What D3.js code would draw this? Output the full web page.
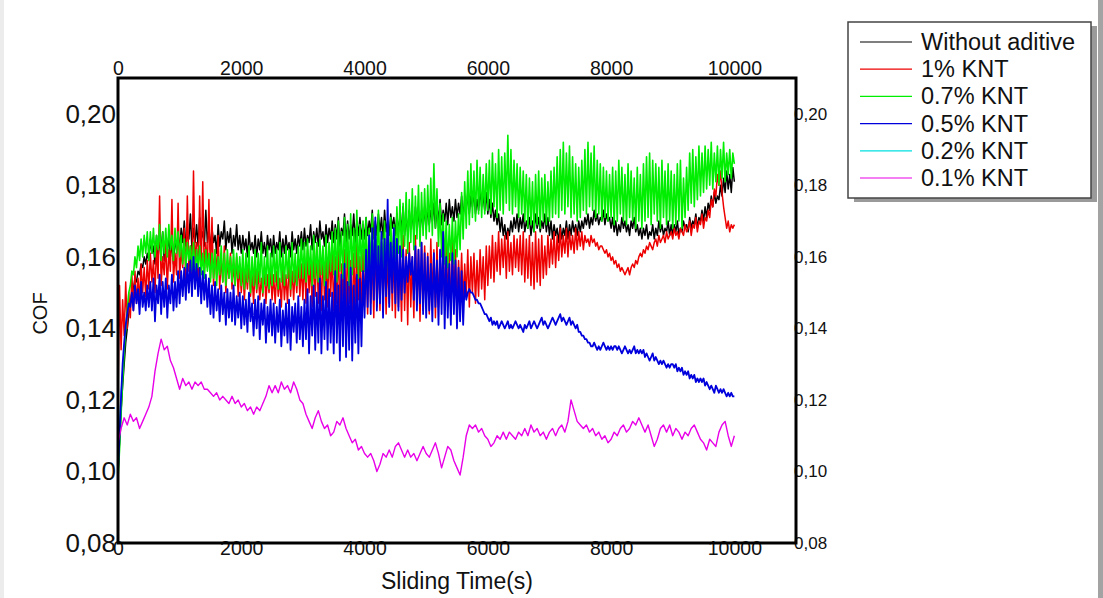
<!DOCTYPE html>
<html>
<head>
<meta charset="utf-8">
<script src="https://cdn.jsdelivr.net/npm/d3@7"></script>
<style>
  html, body { margin: 0; padding: 0; background: #fff; }
  svg { display: block; font-family: "Liberation Sans", Arial, sans-serif; }
</style>
</head>
<body>
<svg id="chart" width="1103" height="598"></svg>
<script>
// Sliding time samples (s)
const timeFine = d3.range(0, 10001, 25);   // friction logger, every 25 s
const timeCoarse = d3.range(0, 10001, 50); // 0.1% KNT run, every 50 s
const timeShort = [0, 50, 100, 150];       // 0.2% KNT run-in

// Coefficient of friction, without additive
const cofWithout = [
  0.100, 0.108, 0.117, 0.124, 0.130, 0.136, 0.140, 0.144, 0.147, 0.150, 0.151, 0.154, 0.153, 0.156, 0.155, 0.158, 0.157, 0.160, 0.158, 0.161,
  0.159, 0.165, 0.161, 0.163, 0.158, 0.166, 0.160, 0.164, 0.162, 0.167, 0.159, 0.163, 0.161, 0.166, 0.160, 0.164, 0.158, 0.165, 0.162, 0.166,
  0.162, 0.168, 0.164, 0.170, 0.163, 0.166, 0.165, 0.172, 0.162, 0.168, 0.164, 0.169, 0.163, 0.171, 0.165, 0.167, 0.163, 0.173, 0.164, 0.168,
  0.162, 0.168, 0.164, 0.166, 0.161, 0.169, 0.163, 0.167, 0.165, 0.170, 0.162, 0.167, 0.164, 0.168, 0.161, 0.166, 0.163, 0.169, 0.162, 0.166,
  0.161, 0.166, 0.162, 0.165, 0.160, 0.167, 0.162, 0.164, 0.161, 0.166, 0.160, 0.165, 0.162, 0.167, 0.161, 0.164, 0.160, 0.166, 0.162, 0.165,
  0.160, 0.166, 0.161, 0.164, 0.162, 0.167, 0.160, 0.165, 0.161, 0.166, 0.162, 0.164, 0.160, 0.167, 0.162, 0.165, 0.161, 0.166, 0.163, 0.167,
  0.162, 0.168, 0.163, 0.166, 0.164, 0.169, 0.162, 0.167, 0.164, 0.168, 0.163, 0.170, 0.165, 0.167, 0.163, 0.169, 0.164, 0.168, 0.165, 0.170,
  0.164, 0.169, 0.165, 0.171, 0.163, 0.168, 0.166, 0.172, 0.164, 0.170, 0.165, 0.169, 0.166, 0.172, 0.164, 0.170, 0.166, 0.171, 0.165, 0.169,
  0.165, 0.171, 0.166, 0.170, 0.167, 0.173, 0.165, 0.170, 0.166, 0.172, 0.167, 0.171, 0.165, 0.173, 0.167, 0.170, 0.166, 0.172, 0.168, 0.171,
  0.166, 0.172, 0.167, 0.171, 0.168, 0.174, 0.166, 0.171, 0.167, 0.173, 0.168, 0.172, 0.167, 0.174, 0.169, 0.172, 0.167, 0.173, 0.168, 0.174,
  0.168, 0.174, 0.169, 0.173, 0.170, 0.175, 0.168, 0.174, 0.170, 0.176, 0.169, 0.173, 0.170, 0.175, 0.169, 0.176, 0.171, 0.174, 0.170, 0.176,
  0.171, 0.175, 0.172, 0.177, 0.171, 0.176, 0.173, 0.178, 0.172, 0.177, 0.174, 0.178, 0.172, 0.176, 0.173, 0.179, 0.174, 0.177, 0.173, 0.178,
  0.172, 0.176, 0.171, 0.175, 0.170, 0.173, 0.169, 0.172, 0.167, 0.171, 0.166, 0.169, 0.165, 0.168, 0.166, 0.170, 0.167, 0.171, 0.168, 0.172,
  0.167, 0.171, 0.168, 0.172, 0.167, 0.170, 0.168, 0.171, 0.166, 0.170, 0.167, 0.172, 0.168, 0.171, 0.167, 0.170, 0.168, 0.172, 0.167, 0.171,
  0.166, 0.170, 0.165, 0.169, 0.166, 0.168, 0.164, 0.169, 0.165, 0.168, 0.166, 0.170, 0.165, 0.169, 0.166, 0.170, 0.167, 0.169, 0.166, 0.170,
  0.167, 0.170, 0.168, 0.171, 0.169, 0.172, 0.168, 0.171, 0.169, 0.173, 0.170, 0.172, 0.169, 0.171, 0.170, 0.173, 0.169, 0.172, 0.170, 0.171,
  0.168, 0.171, 0.167, 0.170, 0.166, 0.169, 0.167, 0.171, 0.168, 0.170, 0.167, 0.169, 0.166, 0.170, 0.168, 0.171, 0.167, 0.169, 0.166, 0.168,
  0.165, 0.168, 0.166, 0.169, 0.165, 0.167, 0.166, 0.169, 0.165, 0.168, 0.166, 0.170, 0.167, 0.169, 0.166, 0.168, 0.167, 0.170, 0.166, 0.169,
  0.166, 0.169, 0.167, 0.170, 0.166, 0.168, 0.167, 0.170, 0.168, 0.169, 0.167, 0.171, 0.168, 0.170, 0.169, 0.172, 0.168, 0.171, 0.170, 0.173,
  0.170, 0.174, 0.171, 0.175, 0.173, 0.177, 0.174, 0.178, 0.175, 0.177, 0.176, 0.180, 0.177, 0.182, 0.178, 0.184, 0.179, 0.183, 0.178, 0.185,
  0.181
];

// 1% KNT
const cof1 = [
  0.120, 0.152, 0.134, 0.148, 0.138, 0.153, 0.140, 0.150, 0.143, 0.155, 0.145, 0.156, 0.147, 0.154, 0.148, 0.158, 0.150, 0.157, 0.149, 0.159,
  0.151, 0.161, 0.153, 0.159, 0.150, 0.163, 0.154, 0.177, 0.152, 0.160, 0.155, 0.164, 0.151, 0.162, 0.156, 0.176, 0.153, 0.161, 0.155, 0.175,
  0.154, 0.162, 0.157, 0.168, 0.153, 0.177, 0.156, 0.163, 0.155, 0.184, 0.157, 0.164, 0.154, 0.177, 0.156, 0.181, 0.155, 0.164, 0.157, 0.176,
  0.154, 0.171, 0.152, 0.162, 0.155, 0.166, 0.151, 0.160, 0.153, 0.163, 0.150, 0.159, 0.154, 0.161, 0.151, 0.158, 0.152, 0.160, 0.149, 0.158,
  0.150, 0.157, 0.148, 0.156, 0.151, 0.158, 0.149, 0.155, 0.147, 0.157, 0.150, 0.156, 0.148, 0.154, 0.149, 0.157, 0.147, 0.155, 0.150, 0.156,
  0.148, 0.155, 0.147, 0.156, 0.149, 0.154, 0.146, 0.157, 0.148, 0.155, 0.147, 0.158, 0.149, 0.156, 0.148, 0.157, 0.150, 0.159, 0.149, 0.158,
  0.148, 0.160, 0.147, 0.162, 0.150, 0.158, 0.146, 0.161, 0.149, 0.163, 0.147, 0.159, 0.145, 0.162, 0.148, 0.160, 0.146, 0.163, 0.149, 0.161,
  0.145, 0.160, 0.147, 0.163, 0.144, 0.158, 0.148, 0.162, 0.145, 0.164, 0.147, 0.159, 0.143, 0.161, 0.146, 0.164, 0.148, 0.160, 0.145, 0.162,
  0.146, 0.161, 0.144, 0.163, 0.147, 0.160, 0.143, 0.165, 0.146, 0.161, 0.145, 0.164, 0.148, 0.162, 0.144, 0.160, 0.147, 0.165, 0.145, 0.162,
  0.143, 0.165, 0.146, 0.161, 0.142, 0.166, 0.145, 0.162, 0.141, 0.164, 0.146, 0.160, 0.143, 0.166, 0.147, 0.162, 0.142, 0.164, 0.145, 0.163,
  0.147, 0.161, 0.144, 0.165, 0.148, 0.162, 0.143, 0.164, 0.146, 0.160, 0.149, 0.163, 0.145, 0.166, 0.147, 0.161, 0.144, 0.165, 0.148, 0.162,
  0.146, 0.159, 0.148, 0.161, 0.147, 0.158, 0.149, 0.162, 0.146, 0.160, 0.150, 0.161, 0.147, 0.159, 0.149, 0.162, 0.151, 0.160, 0.148, 0.163,
  0.152, 0.163, 0.154, 0.166, 0.153, 0.164, 0.156, 0.167, 0.155, 0.165, 0.157, 0.166, 0.154, 0.167, 0.156, 0.164, 0.155, 0.166, 0.157, 0.165,
  0.156, 0.166, 0.155, 0.167, 0.153, 0.165, 0.154, 0.166, 0.152, 0.164, 0.151, 0.167, 0.153, 0.165, 0.152, 0.166, 0.154, 0.163, 0.155, 0.166,
  0.157, 0.165, 0.158, 0.167, 0.157, 0.166, 0.159, 0.168, 0.160, 0.166, 0.161, 0.168, 0.160, 0.167, 0.162, 0.166, 0.161, 0.168, 0.162, 0.167,
  0.163, 0.167, 0.162, 0.166, 0.164, 0.165, 0.163, 0.166, 0.164, 0.165, 0.163, 0.164, 0.162, 0.163, 0.163, 0.162, 0.161, 0.162, 0.160, 0.161,
  0.159, 0.160, 0.158, 0.159, 0.157, 0.158, 0.156, 0.157, 0.156, 0.155, 0.156, 0.157, 0.155, 0.157, 0.158, 0.157, 0.159, 0.158, 0.160, 0.161,
  0.160, 0.162, 0.161, 0.163, 0.162, 0.164, 0.163, 0.162, 0.164, 0.165, 0.163, 0.166, 0.164, 0.165, 0.166, 0.164, 0.167, 0.165, 0.166, 0.167,
  0.165, 0.168, 0.166, 0.167, 0.165, 0.168, 0.167, 0.166, 0.169, 0.167, 0.168, 0.170, 0.166, 0.169, 0.168, 0.171, 0.167, 0.170, 0.169, 0.172,
  0.168, 0.171, 0.170, 0.173, 0.171, 0.176, 0.174, 0.179, 0.177, 0.183, 0.180, 0.184, 0.178, 0.174, 0.171, 0.168, 0.170, 0.167, 0.169, 0.168,
  0.169
];

// 0.7% KNT
const cof07 = [
  0.098, 0.106, 0.116, 0.125, 0.133, 0.140, 0.145, 0.150, 0.152, 0.156, 0.155, 0.160, 0.157, 0.163, 0.159, 0.165, 0.160, 0.166, 0.161, 0.167,
  0.159, 0.167, 0.161, 0.168, 0.160, 0.166, 0.162, 0.169, 0.159, 0.167, 0.161, 0.168, 0.160, 0.169, 0.162, 0.166, 0.159, 0.168, 0.161, 0.167,
  0.160, 0.166, 0.158, 0.165, 0.157, 0.164, 0.159, 0.163, 0.156, 0.164, 0.155, 0.162, 0.157, 0.163, 0.155, 0.161, 0.154, 0.162, 0.156, 0.161,
  0.153, 0.161, 0.154, 0.162, 0.152, 0.160, 0.155, 0.163, 0.153, 0.161, 0.152, 0.162, 0.154, 0.160, 0.153, 0.162, 0.152, 0.161, 0.154, 0.160,
  0.152, 0.162, 0.151, 0.161, 0.153, 0.163, 0.150, 0.160, 0.152, 0.162, 0.151, 0.161, 0.153, 0.164, 0.150, 0.160, 0.152, 0.163, 0.151, 0.161,
  0.152, 0.163, 0.153, 0.162, 0.151, 0.164, 0.153, 0.161, 0.152, 0.163, 0.154, 0.162, 0.151, 0.164, 0.153, 0.161, 0.152, 0.163, 0.154, 0.165,
  0.154, 0.164, 0.153, 0.165, 0.155, 0.163, 0.152, 0.166, 0.154, 0.164, 0.153, 0.165, 0.155, 0.163, 0.152, 0.166, 0.154, 0.164, 0.156, 0.167,
  0.155, 0.168, 0.153, 0.170, 0.156, 0.167, 0.154, 0.171, 0.157, 0.169, 0.152, 0.172, 0.155, 0.168, 0.157, 0.173, 0.154, 0.169, 0.156, 0.170,
  0.156, 0.171, 0.153, 0.168, 0.157, 0.172, 0.155, 0.169, 0.158, 0.173, 0.154, 0.167, 0.156, 0.170, 0.153, 0.168, 0.157, 0.171, 0.155, 0.169,
  0.159, 0.174, 0.161, 0.176, 0.160, 0.175, 0.163, 0.178, 0.161, 0.176, 0.164, 0.179, 0.162, 0.177, 0.165, 0.180, 0.163, 0.178, 0.166, 0.179,
  0.165, 0.180, 0.167, 0.182, 0.166, 0.186, 0.168, 0.179, 0.163, 0.175, 0.160, 0.172, 0.158, 0.170, 0.157, 0.169, 0.159, 0.171, 0.158, 0.170,
  0.160, 0.172, 0.162, 0.178, 0.165, 0.181, 0.168, 0.184, 0.169, 0.186, 0.171, 0.184, 0.170, 0.187, 0.172, 0.185, 0.171, 0.183, 0.172, 0.186,
  0.173, 0.187, 0.172, 0.189, 0.174, 0.186, 0.171, 0.190, 0.173, 0.188, 0.172, 0.189, 0.175, 0.194, 0.173, 0.190, 0.172, 0.187, 0.174, 0.186,
  0.171, 0.185, 0.172, 0.184, 0.170, 0.183, 0.168, 0.182, 0.169, 0.181, 0.167, 0.183, 0.169, 0.184, 0.168, 0.182, 0.170, 0.183, 0.169, 0.181,
  0.170, 0.184, 0.171, 0.185, 0.172, 0.188, 0.171, 0.190, 0.173, 0.192, 0.172, 0.189, 0.174, 0.191, 0.171, 0.188, 0.172, 0.186, 0.170, 0.185,
  0.171, 0.187, 0.173, 0.190, 0.172, 0.192, 0.174, 0.189, 0.173, 0.191, 0.171, 0.187, 0.172, 0.186, 0.170, 0.185, 0.171, 0.184, 0.170, 0.183,
  0.171, 0.185, 0.169, 0.184, 0.170, 0.187, 0.172, 0.185, 0.170, 0.183, 0.169, 0.186, 0.171, 0.184, 0.170, 0.182, 0.168, 0.185, 0.170, 0.183,
  0.168, 0.186, 0.170, 0.188, 0.171, 0.189, 0.169, 0.187, 0.172, 0.186, 0.170, 0.185, 0.168, 0.187, 0.171, 0.184, 0.169, 0.186, 0.170, 0.184,
  0.168, 0.183, 0.169, 0.186, 0.170, 0.187, 0.168, 0.182, 0.171, 0.185, 0.173, 0.189, 0.175, 0.190, 0.174, 0.188, 0.176, 0.191, 0.177, 0.189,
  0.178, 0.191, 0.179, 0.190, 0.180, 0.192, 0.179, 0.189, 0.181, 0.191, 0.180, 0.190, 0.182, 0.192, 0.181, 0.189, 0.183, 0.190, 0.182, 0.189,
  0.186
];

// 0.5% KNT
const cof05 = [
  0.100, 0.110, 0.121, 0.130, 0.136, 0.141, 0.144, 0.147, 0.146, 0.150, 0.145, 0.152, 0.147, 0.151, 0.144, 0.153, 0.146, 0.150, 0.145, 0.152,
  0.146, 0.153, 0.145, 0.154, 0.142, 0.152, 0.147, 0.155, 0.144, 0.153, 0.146, 0.154, 0.143, 0.152, 0.147, 0.155, 0.145, 0.153, 0.146, 0.156,
  0.147, 0.156, 0.149, 0.157, 0.148, 0.158, 0.150, 0.159, 0.149, 0.160, 0.151, 0.158, 0.149, 0.157, 0.147, 0.156, 0.148, 0.155, 0.146, 0.154,
  0.144, 0.152, 0.143, 0.153, 0.145, 0.151, 0.142, 0.152, 0.144, 0.150, 0.141, 0.151, 0.143, 0.150, 0.142, 0.152, 0.141, 0.149, 0.143, 0.150,
  0.140, 0.149, 0.141, 0.148, 0.139, 0.150, 0.142, 0.147, 0.138, 0.148, 0.140, 0.149, 0.137, 0.147, 0.141, 0.148, 0.136, 0.146, 0.139, 0.148,
  0.138, 0.147, 0.136, 0.146, 0.139, 0.148, 0.135, 0.145, 0.138, 0.147, 0.136, 0.148, 0.134, 0.146, 0.139, 0.147, 0.136, 0.149, 0.137, 0.146,
  0.135, 0.148, 0.137, 0.151, 0.133, 0.149, 0.138, 0.152, 0.134, 0.150, 0.136, 0.154, 0.133, 0.149, 0.137, 0.153, 0.134, 0.151, 0.136, 0.150,
  0.133, 0.156, 0.136, 0.152, 0.131, 0.155, 0.135, 0.158, 0.132, 0.153, 0.134, 0.157, 0.131, 0.152, 0.136, 0.155, 0.133, 0.154, 0.135, 0.156,
  0.143, 0.162, 0.146, 0.166, 0.144, 0.168, 0.148, 0.171, 0.145, 0.163, 0.147, 0.167, 0.143, 0.165, 0.149, 0.176, 0.146, 0.164, 0.150, 0.168,
  0.147, 0.165, 0.145, 0.163, 0.148, 0.162, 0.150, 0.160, 0.153, 0.161, 0.155, 0.160, 0.148, 0.163, 0.145, 0.162, 0.147, 0.164, 0.144, 0.161,
  0.143, 0.160, 0.145, 0.158, 0.142, 0.161, 0.146, 0.159, 0.141, 0.162, 0.144, 0.167, 0.140, 0.160, 0.143, 0.158, 0.141, 0.161, 0.144, 0.159,
  0.140, 0.157, 0.142, 0.156, 0.141, 0.153, 0.148, 0.150, 0.151, 0.150, 0.150, 0.149, 0.148, 0.148, 0.147, 0.147, 0.146, 0.145, 0.144, 0.144,
  0.143, 0.142, 0.143, 0.141, 0.142, 0.141, 0.142, 0.140, 0.141, 0.142, 0.141, 0.140, 0.141, 0.142, 0.140, 0.141, 0.140, 0.141, 0.142, 0.141,
  0.140, 0.141, 0.140, 0.139, 0.141, 0.140, 0.141, 0.142, 0.140, 0.141, 0.142, 0.141, 0.140, 0.141, 0.142, 0.143, 0.141, 0.142, 0.141, 0.140,
  0.141, 0.142, 0.143, 0.142, 0.141, 0.142, 0.143, 0.144, 0.142, 0.143, 0.142, 0.141, 0.142, 0.143, 0.141, 0.142, 0.141, 0.140, 0.141, 0.139,
  0.139, 0.138, 0.138, 0.137, 0.137, 0.136, 0.136, 0.135, 0.135, 0.136, 0.135, 0.134, 0.135, 0.134, 0.135, 0.136, 0.135, 0.134, 0.135, 0.134,
  0.135, 0.134, 0.135, 0.135, 0.134, 0.135, 0.134, 0.133, 0.134, 0.135, 0.134, 0.133, 0.134, 0.133, 0.134, 0.135, 0.133, 0.134, 0.133, 0.134,
  0.133, 0.134, 0.132, 0.133, 0.132, 0.131, 0.132, 0.133, 0.131, 0.132, 0.131, 0.130, 0.131, 0.130, 0.131, 0.130, 0.129, 0.130, 0.129, 0.130,
  0.130, 0.129, 0.130, 0.128, 0.129, 0.128, 0.129, 0.127, 0.128, 0.127, 0.128, 0.126, 0.127, 0.126, 0.127, 0.125, 0.126, 0.125, 0.126, 0.125,
  0.126, 0.124, 0.125, 0.124, 0.123, 0.124, 0.123, 0.122, 0.124, 0.123, 0.122, 0.123, 0.122, 0.123, 0.122, 0.121, 0.122, 0.121, 0.122, 0.121,
  0.121
];

// 0.2% KNT
const cof02 = [0.104, 0.122, 0.134, 0.141];

// 0.1% KNT
const cof01 = [
  0.108, 0.112, 0.115, 0.113, 0.116, 0.114, 0.115, 0.112, 0.114, 0.116,
  0.118, 0.121, 0.128, 0.133, 0.137, 0.134, 0.135, 0.131, 0.129, 0.126,
  0.123, 0.126, 0.124, 0.125, 0.123, 0.125, 0.124, 0.125, 0.123, 0.123,
  0.122, 0.121, 0.122, 0.120, 0.121, 0.120, 0.119, 0.121, 0.119, 0.120,
  0.118, 0.119, 0.117, 0.118, 0.116, 0.118, 0.117, 0.119, 0.121, 0.124,
  0.122, 0.124, 0.122, 0.125, 0.123, 0.124, 0.122, 0.125, 0.123, 0.120,
  0.119, 0.116, 0.114, 0.112, 0.115, 0.117, 0.114, 0.112, 0.113, 0.110,
  0.111, 0.114, 0.113, 0.115, 0.112, 0.110, 0.108, 0.109, 0.106, 0.107,
  0.105, 0.104, 0.105, 0.103, 0.100, 0.102, 0.105, 0.104, 0.106, 0.104,
  0.107, 0.108, 0.106, 0.104, 0.106, 0.104, 0.105, 0.103, 0.105, 0.107,
  0.105, 0.104, 0.106, 0.108, 0.105, 0.101, 0.104, 0.107, 0.106, 0.103,
  0.101, 0.099, 0.104, 0.110, 0.113, 0.112, 0.113, 0.111, 0.112, 0.110,
  0.109, 0.107, 0.108, 0.110, 0.109, 0.111, 0.109, 0.111, 0.110, 0.109,
  0.111, 0.110, 0.112, 0.110, 0.113, 0.111, 0.112, 0.110, 0.111, 0.109,
  0.111, 0.112, 0.110, 0.112, 0.113, 0.111, 0.114, 0.120, 0.117, 0.114,
  0.113, 0.112, 0.113, 0.111, 0.112, 0.110, 0.111, 0.109, 0.110, 0.108,
  0.109, 0.111, 0.110, 0.112, 0.113, 0.111, 0.112, 0.114, 0.113, 0.115,
  0.113, 0.111, 0.113, 0.110, 0.107, 0.109, 0.112, 0.113, 0.111, 0.113,
  0.110, 0.112, 0.111, 0.109, 0.111, 0.110, 0.112, 0.113, 0.111, 0.109,
  0.108, 0.106, 0.109, 0.108, 0.107, 0.111, 0.113, 0.114, 0.110, 0.107,
  0.110
];

const seriesNames = ["Without aditive", "1% KNT", "0.7% KNT", "0.5% KNT", "0.2% KNT", "0.1% KNT"];
const xTicks = [0, 2000, 4000, 6000, 8000, 10000];
const yTicks = [0.08, 0.10, 0.12, 0.14, 0.16, 0.18, 0.20];

const colors = ["#000000", "#ee0000", "#00ee00", "#0000dd", "#00e0e0", "#e800e8"];
const series = [
  { name: seriesNames[0], t: timeFine, v: cofWithout, color: colors[0], w: 1.5 },
  { name: seriesNames[1], t: timeFine, v: cof1, color: colors[1], w: 1.5 },
  { name: seriesNames[2], t: timeFine, v: cof07, color: colors[2], w: 1.6 },
  { name: seriesNames[3], t: timeFine, v: cof05, color: colors[3], w: 1.8 },
  { name: seriesNames[4], t: timeShort, v: cof02, color: colors[4], w: 1.2 },
  { name: seriesNames[5], t: timeCoarse, v: cof01, color: colors[5], w: 1.4 }
];
// stacking order of the traces, bottom first
const drawOrder = [4, 0, 1, 2, 3, 5];

const svg = d3.select("#chart");
const W = 1103, H = 598;
const frame = { left: 118, right: 796, top: 78, bottom: 543 };

// page edges
svg.append("rect").attr("x", 0).attr("y", 0).attr("width", W).attr("height", H).attr("fill", "#fff");
svg.append("rect").attr("x", 0).attr("y", 0).attr("width", 4).attr("height", H).attr("fill", "#ececec");
svg.append("rect").attr("x", W - 5).attr("y", 0).attr("width", 5).attr("height", H).attr("fill", "#a3a3a3");

const x = d3.scaleLinear().domain([0, 11000]).range([frame.left, frame.right]);
const y = d3.scaleLinear().domain([0.08, 0.21]).range([frame.bottom, frame.top]);

const fmtY = v => d3.format(".2f")(v).replace(".", ",");

svg.append("defs").append("clipPath").attr("id", "plotClip")
  .append("rect")
  .attr("x", frame.left).attr("y", frame.top)
  .attr("width", frame.right - frame.left).attr("height", frame.bottom - frame.top);

// traces
const line = d3.line()
  .defined(d => d[1] != null)
  .x(d => x(d[0])).y(d => y(d[1]));
const traces = svg.append("g").attr("clip-path", "url(#plotClip)");
drawOrder.forEach(i => {
  const s = series[i];
  traces.append("path")
    .datum(s.t.map((t, k) => [t, s.v[k]]))
    .attr("d", line)
    .attr("fill", "none")
    .attr("stroke", s.color)
    .attr("stroke-width", s.w)
    .attr("stroke-linejoin", "round");
});

// axes: labels only, no tick marks
function axisLabels(axis, transform, fontSize) {
  const g = svg.append("g").attr("transform", transform).call(axis);
  g.select(".domain").remove();
  g.selectAll(".tick line").remove();
  g.selectAll(".tick text")
    .attr("font-family", "'Liberation Sans', Arial, sans-serif")
    .attr("font-size", fontSize)
    .attr("fill", "#111");
  return g;
}

axisLabels(d3.axisLeft(y).tickValues(yTicks).tickFormat(fmtY).tickSize(0).tickPadding(2),
  `translate(${frame.left},0)`, 26);
axisLabels(d3.axisRight(y).tickValues(yTicks).tickFormat(fmtY).tickSize(0).tickPadding(-2),
  `translate(${frame.right},0)`, 17);
axisLabels(d3.axisTop(x).tickValues(xTicks).tickFormat(d3.format("d")).tickSize(0).tickPadding(3),
  `translate(0,${frame.top})`, 19.5);
axisLabels(d3.axisBottom(x).tickValues(xTicks).tickFormat(d3.format("d")).tickSize(0).tickPadding(-2),
  `translate(0,${frame.bottom})`, 19.5);

// frame
svg.append("rect")
  .attr("x", frame.left).attr("y", frame.top)
  .attr("width", frame.right - frame.left).attr("height", frame.bottom - frame.top)
  .attr("fill", "none").attr("stroke", "#000").attr("stroke-width", 3);

// axis titles
svg.append("text")
  .attr("transform", `translate(40,${(frame.top + frame.bottom) / 2 + 3}) rotate(-90)`)
  .attr("text-anchor", "middle").attr("dominant-baseline", "central")
  .attr("font-size", 20).attr("fill", "#111").text("COF");
svg.append("text")
  .attr("x", 457).attr("y", 581)
  .attr("text-anchor", "middle").attr("dominant-baseline", "central")
  .attr("font-size", 23).attr("fill", "#111").text("Sliding Time(s)");

// legend
const lg = { x: 848, y: 22, w: 243, h: 176 };
svg.append("rect").attr("x", lg.x + 6).attr("y", lg.y + 4).attr("width", lg.w).attr("height", lg.h).attr("fill", "#9a9a9a");
svg.append("rect").attr("x", lg.x).attr("y", lg.y).attr("width", lg.w).attr("height", lg.h)
  .attr("fill", "#fff").attr("stroke", "#444").attr("stroke-width", 1.5);
const rowY = d3.scaleLinear().domain([0, 5]).range([lg.y + 20, lg.y + 156]);
series.forEach((s, i) => {
  svg.append("line")
    .attr("x1", lg.x + 12).attr("x2", lg.x + 64)
    .attr("y1", rowY(i)).attr("y2", rowY(i))
    .attr("stroke", s.color).attr("stroke-width", 1.2);
  svg.append("text")
    .attr("x", lg.x + 73).attr("y", rowY(i))
    .attr("dominant-baseline", "central")
    .attr("font-size", 23.5).attr("fill", "#111").text(s.name);
});
</script>
</body>
</html>
